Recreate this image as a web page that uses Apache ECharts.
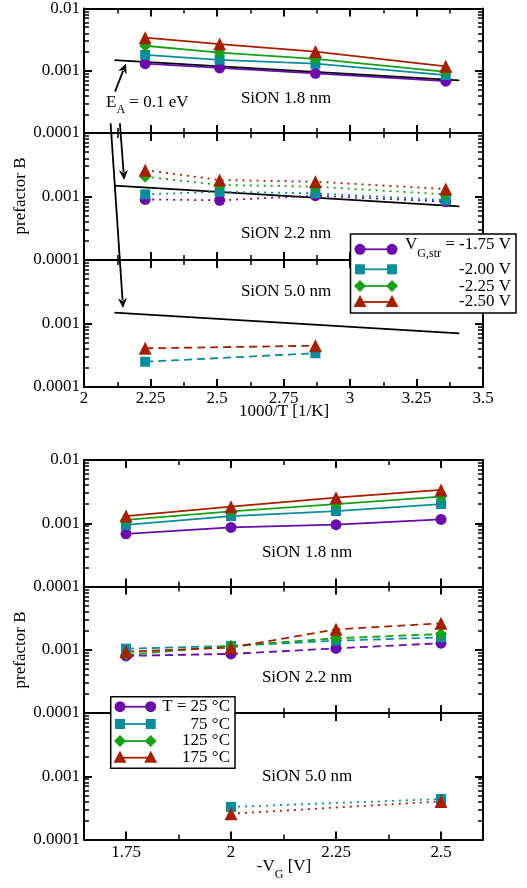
<!DOCTYPE html>
<html><head><meta charset="utf-8">
<script src="https://cdn.jsdelivr.net/npm/echarts@6/dist/echarts.min.js"></script>
<style>html,body{margin:0;padding:0;background:#fff}#c{width:527px;height:888px}</style>
</head><body><div id="c"></div>
<script>
// ---------- data ----------
const invT = [2.23, 2.51, 2.87, 3.36];          // 1000/T for 175,125,75,25 °C
const invT5 = [2.23, 2.87];
const vgLabels = ['-1.75 V', '-2.00 V', '-2.25 V', '-2.50 V'];
const tempLabels = ['25 °C', '75 °C', '125 °C', '175 °C'];

// top chart, SiON 1.8 nm (by V_G,str)
const t18_v175 = [0.00130, 0.00111, 0.00091, 0.00068];
const t18_v200 = [0.00180, 0.00150, 0.00130, 0.00085];
const t18_v225 = [0.00252, 0.00195, 0.00155, 0.00096];
const t18_v250 = [0.00340, 0.00268, 0.00203, 0.00118];
// top chart, SiON 2.2 nm
const t22_v175 = [0.00090, 0.00087, 0.00103, 0.00083];
const t22_v200 = [0.00108, 0.00119, 0.00112, 0.00088];
const t22_v225 = [0.00205, 0.00152, 0.00143, 0.00108];
const t22_v250 = [0.00260, 0.00182, 0.00171, 0.00131];
// top chart, SiON 5.0 nm
const t50_v200 = [0.00025, 0.00034];
const t50_v250 = [0.000406, 0.000447];
// E_A = 0.1 eV reference line
const eaX = [2.114, 3.411];
const eaY = [0.00148, 0.00070];

// bottom chart (by temperature)
const vg = [1.75, 2.0, 2.25, 2.5];
const vg5 = [2.0, 2.5];
const b18_t25  = [0.00068, 0.00086, 0.00095, 0.00115];
const b18_t75  = [0.00094, 0.00130, 0.00156, 0.00201];
const b18_t125 = [0.00113, 0.00154, 0.00201, 0.00263];
const b18_t175 = [0.00130, 0.00183, 0.00254, 0.00336];
const b22_t25  = [0.00080, 0.00086, 0.00105, 0.00127];
const b22_t75  = [0.00104, 0.00115, 0.00139, 0.00157];
const b22_t125 = [0.00083, 0.00115, 0.00152, 0.00177];
const b22_t175 = [0.00093, 0.00108, 0.00210, 0.00262];
const b50_t75  = [0.000327, 0.000437];
const b50_t175 = [0.000256, 0.000400];

// tick values
const yMajor = [0.0001, 0.001, 0.01];
const yMinor = [0.0002,0.0003,0.0004,0.0005,0.0006,0.0007,0.0008,0.0009,0.002,0.003,0.004,0.005,0.006,0.007,0.008,0.009];
const vgMajor = [1.75, 2, 2.25, 2.5];
const vgMinor = [1.875, 2.125, 2.375];

// ---------- style ----------
const FONT = '"Liberation Serif", "Times New Roman", serif';
const FS = 17;
const COLORS = ['#6a0aa8', '#0a8c9c', '#18a018', '#a32000'];
const SYMBOLS = ['circle', 'rect', 'diamond', 'triangle'];
const SYMSIZE = [11, 10, 12, 13];
const DOT = [2, 5], DASH = [8, 5];

const grids = [], xAxes = [], yAxes = [], series = [];
const xMain = [], yMain = [];

function addGrid(top, height) {
  grids.push({left: 84, width: 399, top: top, height: height});
  return grids.length - 1;
}
function yAxesFor(g, firstInChart) {
  yMain[g] = yAxes.length;
  ['left', 'right'].forEach(function (pos) {
    yAxes.push({
      type: 'log', logBase: 10, gridIndex: g, min: 0.0001, max: 0.01, position: pos,
      axisLine: {show: true, onZero: false, lineStyle: {color: '#000', width: 2}},
      axisTick: {show: true, inside: true, length: 8, customValues: yMajor, lineStyle: {color: '#000', width: 2}},
      axisLabel: {show: pos === 'left', customValues: firstInChart ? yMajor : yMajor.slice(0, 2), margin: 4,
        fontFamily: FONT, fontSize: FS, color: '#000', formatter: function (v) { return String(v); }},
      splitLine: {show: false}
    });
    yAxes.push({
      type: 'log', logBase: 10, gridIndex: g, min: 0.0001, max: 0.01, position: pos,
      axisLine: {show: false},
      axisTick: {show: true, inside: true, length: 5, customValues: yMinor, lineStyle: {color: '#000', width: 1.5}},
      axisLabel: {show: false}, splitLine: {show: false}
    });
  });
}
function xAxesTop(g, showLabel) {
  xMain[g] = xAxes.length;
  ['bottom', 'top'].forEach(function (pos) {
    xAxes.push({
      type: 'value', gridIndex: g, min: 2, max: 3.5, interval: 0.25, position: pos,
      axisLine: {show: true, onZero: false, lineStyle: {color: '#000', width: 2}},
      axisTick: {show: true, inside: true, length: 8, lineStyle: {color: '#000', width: 2}},
      minorTick: {show: true, splitNumber: 2, length: 5, lineStyle: {color: '#000', width: 1.5}},
      axisLabel: {show: showLabel && pos === 'bottom', margin: 3, fontFamily: FONT, fontSize: FS, color: '#000'},
      splitLine: {show: false}, minorSplitLine: {show: false}
    });
  });
}
function xAxesBottom(g, showLabel) {
  xMain[g] = xAxes.length;
  ['bottom', 'top'].forEach(function (pos) {
    xAxes.push({
      type: 'value', gridIndex: g, min: 1.65, max: 2.6, position: pos,
      axisLine: {show: true, onZero: false, lineStyle: {color: '#000', width: 2}},
      axisTick: {show: true, inside: true, length: 8, customValues: vgMajor, lineStyle: {color: '#000', width: 2}},
      axisLabel: {show: showLabel && pos === 'bottom', customValues: vgMajor, margin: 5, fontFamily: FONT, fontSize: FS, color: '#000'},
      splitLine: {show: false}
    });
    xAxes.push({
      type: 'value', gridIndex: g, min: 1.65, max: 2.6, position: pos,
      axisLine: {show: false},
      axisTick: {show: true, inside: true, length: 5, customValues: vgMinor, lineStyle: {color: '#000', width: 1.5}},
      axisLabel: {show: false}, splitLine: {show: false}
    });
  });
}
function addSeries(g, xs, ys, k, lineType, name) {
  series.push({
    type: 'line', name: name, xAxisIndex: xMain[g], yAxisIndex: yMain[g],
    data: xs.map(function (x, i) { return [x, ys[i]]; }),
    symbol: SYMBOLS[k], symbolSize: SYMSIZE[k], showSymbol: true,
    itemStyle: {color: COLORS[k]},
    lineStyle: {color: COLORS[k], width: 1.8, type: lineType},
    animation: false, z: 3
  });
}
function addEA(g) {
  series.push({
    type: 'line', xAxisIndex: xMain[g], yAxisIndex: yMain[g],
    data: eaX.map(function (x, i) { return [x, eaY[i]]; }),
    symbol: 'none', lineStyle: {color: '#000', width: 1.8}, animation: false, z: 2, silent: true
  });
}

// top chart
const TOP0 = 6, TH = 127;
for (let i = 0; i < 3; i++) {
  const g = addGrid(TOP0 + TH * i, TH);
  xAxesTop(g, i === 2);
  yAxesFor(g, i === 0);
}
// bottom chart
const BOT0 = 460, BH = 126.5;
for (let i = 0; i < 3; i++) {
  const g = addGrid(BOT0 + BH * i, BH);
  xAxesBottom(g, i === 2);
  yAxesFor(g, i === 0);
}

[0, 1, 2].forEach(addEA);
[t18_v175, t18_v200, t18_v225, t18_v250].forEach(function (d, k) { addSeries(0, invT, d, k, 'solid', vgLabels[k]); });
[t22_v175, t22_v200, t22_v225, t22_v250].forEach(function (d, k) { addSeries(1, invT, d, k, DOT, vgLabels[k]); });
addSeries(2, invT5, t50_v200, 1, DASH, vgLabels[1]);
addSeries(2, invT5, t50_v250, 3, DASH, vgLabels[3]);
[b18_t25, b18_t75, b18_t125, b18_t175].forEach(function (d, k) { addSeries(3, vg, d, k, 'solid', tempLabels[k]); });
[b22_t25, b22_t75, b22_t125, b22_t175].forEach(function (d, k) { addSeries(4, vg, d, k, DASH, tempLabels[k]); });
addSeries(5, vg5, b50_t75, 1, DOT, tempLabels[1]);
addSeries(5, vg5, b50_t175, 3, DOT, tempLabels[3]);

// ---------- annotations ----------
function txt(x, y, text, opts) {
  return Object.assign({type: 'text', x: x, y: y, z: 10, style: Object.assign({
    text: text, fontFamily: FONT, fontSize: FS, fill: '#000', align: 'center', verticalAlign: 'middle'
  }, opts || {})});
}
function legendSymbol(k, cx, cy) {
  const c = COLORS[k];
  if (k === 0) return {type: 'circle', shape: {cx: cx, cy: cy, r: 5.5}, style: {fill: c}, z: 12};
  if (k === 1) return {type: 'rect', shape: {x: cx - 5, y: cy - 5, width: 10, height: 10}, style: {fill: c}, z: 12};
  if (k === 2) return {type: 'polygon', shape: {points: [[cx, cy - 6], [cx + 6, cy], [cx, cy + 6], [cx - 6, cy]]}, style: {fill: c}, z: 12};
  return {type: 'polygon', shape: {points: [[cx, cy - 7], [cx + 6.5, cy + 5], [cx - 6.5, cy + 5]]}, style: {fill: c}, z: 12};
}
function legendBox(x, y, w, h, x1, x2, rowsY, textX, textRows) {
  const els = [{type: 'rect', shape: {x: x, y: y, width: w, height: h}, style: {fill: '#fff', stroke: '#000', lineWidth: 1.5}, z: 11}];
  rowsY.forEach(function (cy, k) {
    els.push({type: 'line', shape: {x1: x1, y1: cy, x2: x2, y2: cy}, style: {stroke: COLORS[k], lineWidth: 1.8}, z: 12});
    els.push(legendSymbol(k, x1, cy));
    els.push(legendSymbol(k, x2, cy));
  });
  textRows.forEach(function (r) { els.push(Object.assign(txt(textX, r.y, r.text, Object.assign({align: 'right'}, r.style || {})), {z: 13})); });
  return els;
}

const subRich = function (pad) {
  return {s: {fontFamily: FONT, fontSize: 12, fill: '#000', padding: [pad, 0, 0, 0]}};
};

const graphics = [];
// panel labels
graphics.push(txt(286, 99, 'SiON 1.8 nm'));
graphics.push(txt(286, 234, 'SiON 2.2 nm'));
graphics.push(txt(286, 292, 'SiON 5.0 nm'));
graphics.push(txt(307, 553, 'SiON 1.8 nm'));
graphics.push(txt(307, 678, 'SiON 2.2 nm'));
graphics.push(txt(307, 777, 'SiON 5.0 nm'));
// axis titles
graphics.push(txt(284, 412, '1000/T [1/K]'));
graphics.push(txt(284, 867, '-V{s|G} [V]', {rich: subRich(16)}));
graphics.push(Object.assign(txt(21, 196, 'prefactor B'), {rotation: Math.PI / 2}));
graphics.push(Object.assign(txt(21, 650, 'prefactor B'), {rotation: Math.PI / 2}));
// E_A label
graphics.push(txt(106, 103, 'E{s|A} = 0.1 eV', {align: 'left', rich: subRich(14)}));
// legends
legendBox(350.5, 234, 165.5, 79, 360, 392, [249.3, 269.3, 286, 302], 511, [
  {y: 245, text: 'V{s|G,str} = -1.75 V', style: {rich: subRich(18)}},
  {y: 270, text: '-2.00 V'}, {y: 286.7, text: '-2.25 V'}, {y: 301.7, text: '-2.50 V'}
]).forEach(function (e) { graphics.push(e); });
legendBox(110.7, 696.7, 124.3, 71.6, 120, 150.7, [706.7, 724, 741, 757.7], 230, [
  {y: 706.7, text: 'T = 25 °C'}, {y: 724.5, text: '75 °C'}, {y: 741, text: '125 °C'}, {y: 758, text: '175 °C'}
]).forEach(function (e) { graphics.push(e); });

const chart = echarts.init(document.getElementById('c'), null, {renderer: 'canvas'});
chart.setOption({
  animation: false,
  backgroundColor: '#fff',
  grid: grids, xAxis: xAxes, yAxis: yAxes, series: series,
  graphic: graphics
});

// arrows (annotation), endpoints given in data coordinates of a panel
const arrows = [
  {from: [0, 2.1165, 4.63e-4], to: [0, 2.158, 1.31e-3]},
  {from: [0, 2.135, 1.436e-4], to: [1, 2.151, 1.82e-3]},
  {from: [0, 2.100, 1.436e-4], to: [2, 2.147, 1.75e-3]}
];
const arrowEls = [];
arrows.forEach(function (a) {
  const p = chart.convertToPixel({xAxisIndex: xMain[a.from[0]], yAxisIndex: yMain[a.from[0]]}, [a.from[1], a.from[2]]);
  const q = chart.convertToPixel({xAxisIndex: xMain[a.to[0]], yAxisIndex: yMain[a.to[0]]}, [a.to[1], a.to[2]]);
  const dx = q[0] - p[0], dy = q[1] - p[1], L = Math.sqrt(dx * dx + dy * dy);
  const ux = dx / L, uy = dy / L, hl = 10, hw = 4.5;
  const bx = q[0] - ux * hl, by = q[1] - uy * hl;
  arrowEls.push({type: 'line', shape: {x1: p[0], y1: p[1], x2: bx + ux * 2, y2: by + uy * 2}, style: {stroke: '#000', lineWidth: 1.8}, z: 9});
  arrowEls.push({type: 'polygon', shape: {points: [[q[0], q[1]], [bx - uy * hw, by + ux * hw], [bx + ux * 3, by + uy * 3], [bx + uy * hw, by - ux * hw]]}, style: {fill: '#000'}, z: 9});
});
chart.setOption({graphic: graphics.concat(arrowEls)}, {replaceMerge: ['graphic']});
</script></body></html>
